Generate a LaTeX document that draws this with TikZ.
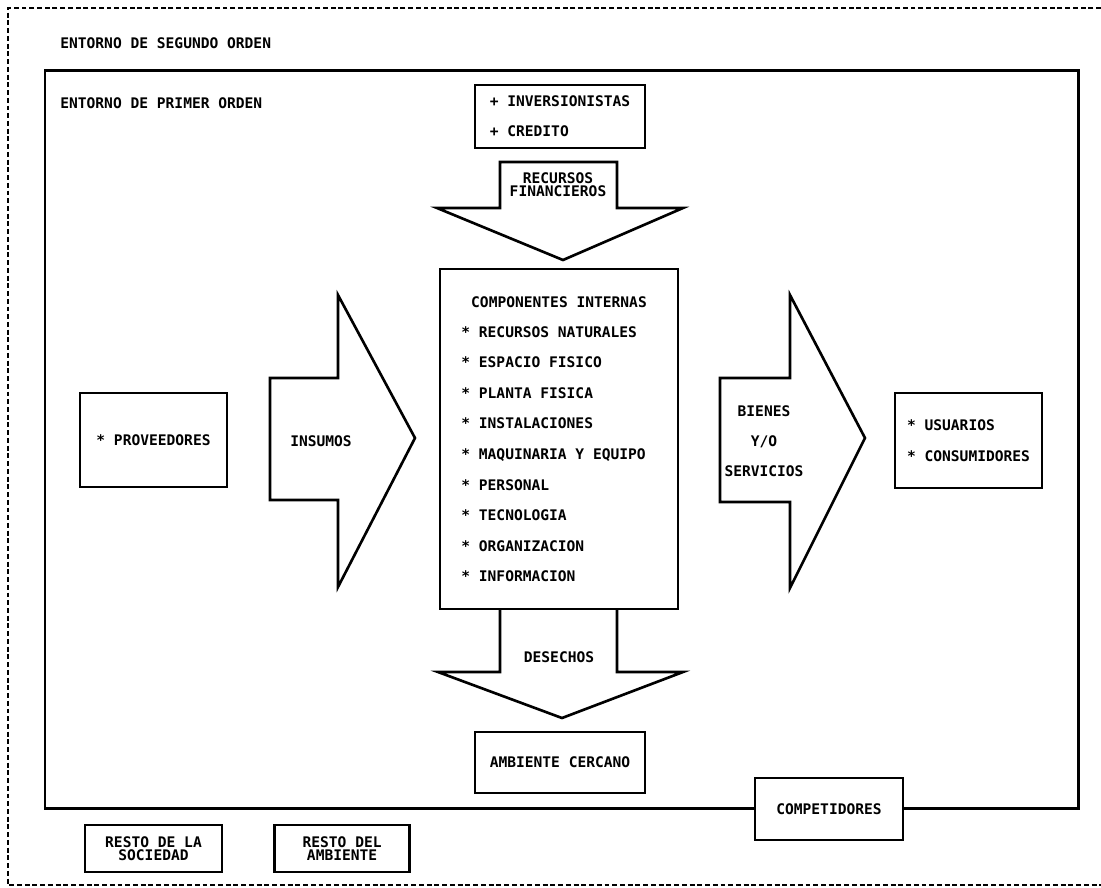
\documentclass[tikz,border=0pt]{standalone}
\usepackage{fontspec}
\setmonofont{DejaVu Sans Mono}
\usetikzlibrary{positioning}

\begin{document}
\begin{tikzpicture}[x=0.02cm, y=-0.02cm, node distance=1cm,
                    font=\ttfamily\bfseries\fontsize{8.3}{10}\selectfont]

  \tikzstyle{frame}    = [draw=black, line width=1.1pt, dash pattern=on 2.8pt off 1.6pt];
  \tikzstyle{outer}    = [draw=black, line width=1.7pt];
  \tikzstyle{box}      = [rectangle, draw=black, line width=1.5pt, fill=white, inner sep=0pt];
  \tikzstyle{bigarrow} = [draw=black, line width=1.5pt, fill=white, line join=miter];
  \tikzstyle{txt}      = [inner sep=0pt];

  \useasboundingbox (0,0) rectangle (1101,887);

  % entorno de segundo orden
  \draw[frame] (1101,8) -- (8,8) -- (8,885) -- (1101,885);
  \node [txt, anchor=west] (segundo-label) at (60,43) {ENTORNO DE SEGUNDO ORDEN};

  % entorno de primer orden
  \draw[outer] (45,70) rectangle (1078,808);
  \node [txt, anchor=west] (primer-label) at (60,103) {ENTORNO DE PRIMER ORDEN};

  % flechas
  \draw[bigarrow] (500,162) -- (617,162) -- (617,208) -- (683,208) -- (563,260)
                  -- (437,208) -- (500,208) -- cycle;
  \draw[bigarrow] (270,378) -- (338,378) -- (338,295) -- (415,438) -- (338,587)
                  -- (338,500) -- (270,500) -- cycle;
  \draw[bigarrow] (720,378) -- (790,378) -- (790,295) -- (865,438) -- (790,588)
                  -- (790,502) -- (720,502) -- cycle;
  \draw[bigarrow] (500,609) -- (500,672) -- (438,672) -- (562,718) -- (683,672)
                  -- (617,672) -- (617,609);

  \node [txt, align=center] (recursos) at (558,185) {RECURSOS\\[-2.5pt]FINANCIEROS};
  \node [txt]               (insumos)  at (321,441) {INSUMOS};
  \node [txt, align=center] (bienes)   at (764,441) {BIENES\\[7pt]Y/O\\[7pt]SERVICIOS};
  \node [txt]               (desechos) at (559,657) {DESECHOS};

  % cajas
  \node [box, minimum width=3.4cm, minimum height=1.26cm, align=left] (financiamiento) at (560,116.5)
        {+ INVERSIONISTAS\\[7pt]+ CREDITO};

  \node [box, minimum width=4.76cm, minimum height=6.8cm] (componentes) at (559,439) {};
  \node [txt] (componentes-label) at (559,302) {COMPONENTES INTERNAS};
  \node [txt, align=left, anchor=north west] (lista) at (461,326)
        {* RECURSOS NATURALES\\[7.4pt]* ESPACIO FISICO\\[7.4pt]* PLANTA FISICA\\[7.4pt]%
         * INSTALACIONES\\[7.4pt]* MAQUINARIA Y EQUIPO\\[7.4pt]* PERSONAL\\[7.4pt]%
         * TECNOLOGIA\\[7.4pt]* ORGANIZACION\\[7.4pt]* INFORMACION};

  \node [box, minimum width=2.94cm, minimum height=1.88cm] (proveedores) at (153.5,440) {* PROVEEDORES};
  \node [box, minimum width=2.94cm, minimum height=1.9cm, align=left] (usuarios) at (968.5,440.5)
        {* USUARIOS\\[7.5pt]* CONSUMIDORES};

  \node [box, minimum width=3.4cm, minimum height=1.22cm] (ambiente) at (560,762.5) {AMBIENTE CERCANO};
  \node [box, minimum width=2.96cm, minimum height=1.24cm] (competidores) at (829,809) {COMPETIDORES};

  \node [box, minimum width=2.74cm, minimum height=0.94cm, align=center] (sociedad) at (153.5,848.5)
        {RESTO DE LA\\[-2.5pt]SOCIEDAD};
  \node [box, minimum width=2.7cm, minimum height=0.94cm, align=center, right=1cm of sociedad] (resto-ambiente)
        {RESTO DEL\\[-2.5pt]AMBIENTE};

\end{tikzpicture}
\end{document}
